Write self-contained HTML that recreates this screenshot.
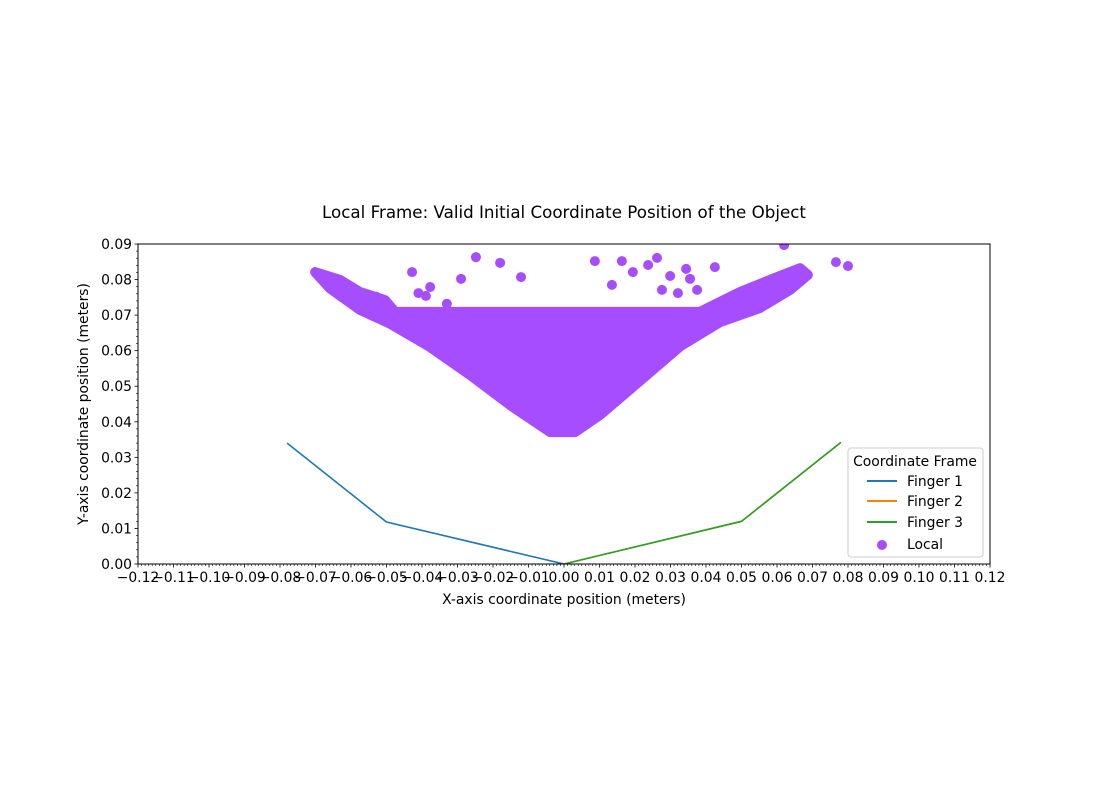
<!DOCTYPE html>
<html><head><meta charset="utf-8"><style>
body{margin:0;background:#fff;}
svg text{font-family:"DejaVu Sans","Liberation Sans",sans-serif;fill:#000;}
</style></head><body>
<svg id="chart" width="1100" height="800" xmlns="http://www.w3.org/2000/svg">
<rect width="1100" height="800" fill="#fff"/>
<text x="564" y="218" font-size="16.7" text-anchor="middle">Local Frame: Valid Initial Coordinate Position of the Object</text>
<g id="plot"></g>
<g id="axes"></g>
<text x="564" y="604" font-size="13.9" text-anchor="middle">X-axis coordinate position (meters)</text>
<text transform="translate(88,404) rotate(-90)" font-size="13.9" text-anchor="middle">Y-axis coordinate position (meters)</text>
<g>
<rect x="848" y="448" width="135" height="109" rx="3" fill="#fff" fill-opacity="0.8" stroke="#ccc"/>
<text x="915" y="466" font-size="13.9" text-anchor="middle">Coordinate Frame</text>
<line x1="867" y1="481" x2="897" y2="481" stroke="#1f77b4" stroke-width="2"/>
<text x="907" y="486" font-size="13.9">Finger 1</text>
<line x1="867" y1="501" x2="897" y2="501" stroke="#ff7f0e" stroke-width="2"/>
<text x="907" y="506" font-size="13.9">Finger 2</text>
<line x1="867" y1="522" x2="897" y2="522" stroke="#2ca02c" stroke-width="2"/>
<text x="907" y="527" font-size="13.9">Finger 3</text>
<circle cx="882" cy="545" r="5" fill="#a64dff"/>
<text x="907" y="549" font-size="13.9">Local</text>
</g>
</svg>
<script>
const xTicks=[-0.12,-0.11,-0.10,-0.09,-0.08,-0.07,-0.06,-0.05,-0.04,-0.03,-0.02,-0.01,0.00,0.01,0.02,0.03,0.04,0.05,0.06,0.07,0.08,0.09,0.10,0.11,0.12];
const yTicks=[0,0.01,0.02,0.03,0.04,0.05,0.06,0.07,0.08,0.09];
const finger1X=[-0.078,-0.05,0];
const finger1Y=[0.034,0.0118,0];
const finger2X=[0,0.05,0.078];
const finger2Y=[0,0.012,0.0342];
const finger3X=[0,0.05,0.078];
const finger3Y=[0,0.012,0.0342];
const cloudX=[-0.0701,-0.0631,-0.0575,-0.0504,-0.0476,0.0383,0.0496,0.058,0.0665,0.0687,0.0637,0.0552,0.0439,0.0327,0.0214,0.0101,0.0031,-0.0039,-0.0152,-0.0265,-0.0377,-0.049,-0.0575,-0.0659];
const cloudY=[0.0821,0.0799,0.0765,0.0742,0.0709,0.0709,0.0765,0.0799,0.0832,0.0813,0.0771,0.0720,0.0680,0.0612,0.0515,0.0419,0.0371,0.0371,0.0447,0.0532,0.0610,0.0676,0.0715,0.0775];
const localX=[-0.0248,-0.018,-0.0121,-0.029,-0.0428,-0.0377,-0.0389,0.0087,0.0163,0.0194,0.0237,0.0262,0.0135,0.0299,0.0344,0.0355,0.0375,0.0425,0.0276,0.062,0.0766,0.08,0.0321,-0.0330,-0.0410,-0.0530];
const localY=[0.0863,0.0847,0.0807,0.0802,0.0821,0.0779,0.0754,0.0852,0.0852,0.0821,0.0841,0.0861,0.0785,0.081,0.083,0.0802,0.0771,0.0835,0.0771,0.0897,0.0849,0.0838,0.0762,0.0732,0.0762,0.0752];

const X0=138,X1=990,Y0=564,Y1=244;
const sx=v=>X0+(v+0.12)/0.24*(X1-X0);
const sy=v=>Y0-v/0.09*(Y0-Y1);
const NS='http://www.w3.org/2000/svg';
const mk=(t,a,p)=>{const e=document.createElementNS(NS,t);for(const k in a)e.setAttribute(k,a[k]);p.appendChild(e);return e;};
const plot=document.getElementById('plot'),axes=document.getElementById('axes');
const defs=mk('clipPath',{id:'clip'},plot);mk('rect',{x:X0,y:Y1,width:X1-X0,height:Y0-Y1},defs);
const g=mk('g',{'clip-path':'url(#clip)'},plot);

const cl=mk('polygon',{points:cloudX.map((x,i)=>sx(x)+','+sy(cloudY[i])).join(' '),fill:'#a64dff',stroke:'#a64dff','stroke-width':10,'stroke-linejoin':'round'},g);


localX.forEach((x,i)=>{const c=mk('circle',{cx:sx(x),cy:sy(localY[i]),r:5,fill:'#a64dff'},g);

});

[[finger1X,finger1Y,'#1f77b4','finger-1-line'],[finger2X,finger2Y,'#ff7f0e','finger-2-line'],[finger3X,finger3Y,'#2ca02c','finger-3-line']].forEach(([xs,ys,c,n])=>{
const l=mk('polyline',{points:xs.map((x,i)=>sx(x)+','+sy(ys[i])).join(' '),fill:'none',stroke:c,'stroke-width':1.6},g);

});

mk('rect',{x:X0,y:Y1,width:X1-X0,height:Y0-Y1,fill:'none',stroke:'#000','stroke-width':1},axes);
for(let i=0;i<=240;i++){const x=sx(-0.12+i*0.001);if(i%10)mk('line',{x1:x,x2:x,y1:Y0,y2:Y0+2,stroke:'#000','stroke-width':0.6},axes);}
for(let i=0;i<=45;i++){const y=sy(i*0.002);if(i%5)mk('line',{x1:X0,x2:X0-2,y1:y,y2:y,stroke:'#000','stroke-width':0.6},axes);}
xTicks.forEach(v=>{const x=sx(v);mk('line',{x1:x,x2:x,y1:Y0,y2:Y0+3.5,stroke:'#000','stroke-width':0.8},axes);
const t=mk('text',{x:x,y:Y0+18,'font-size':13.9,'text-anchor':'middle'},axes);t.textContent=(v<0?'\u2212':'')+Math.abs(v).toFixed(2);

});
yTicks.forEach(v=>{const y=sy(v);mk('line',{x1:X0,x2:X0-3.5,y1:y,y2:y,stroke:'#000','stroke-width':0.8},axes);
const t=mk('text',{x:X0-6,y:y+5,'font-size':13.9,'text-anchor':'end'},axes);t.textContent=v.toFixed(2);

});
</script>
</body></html>
